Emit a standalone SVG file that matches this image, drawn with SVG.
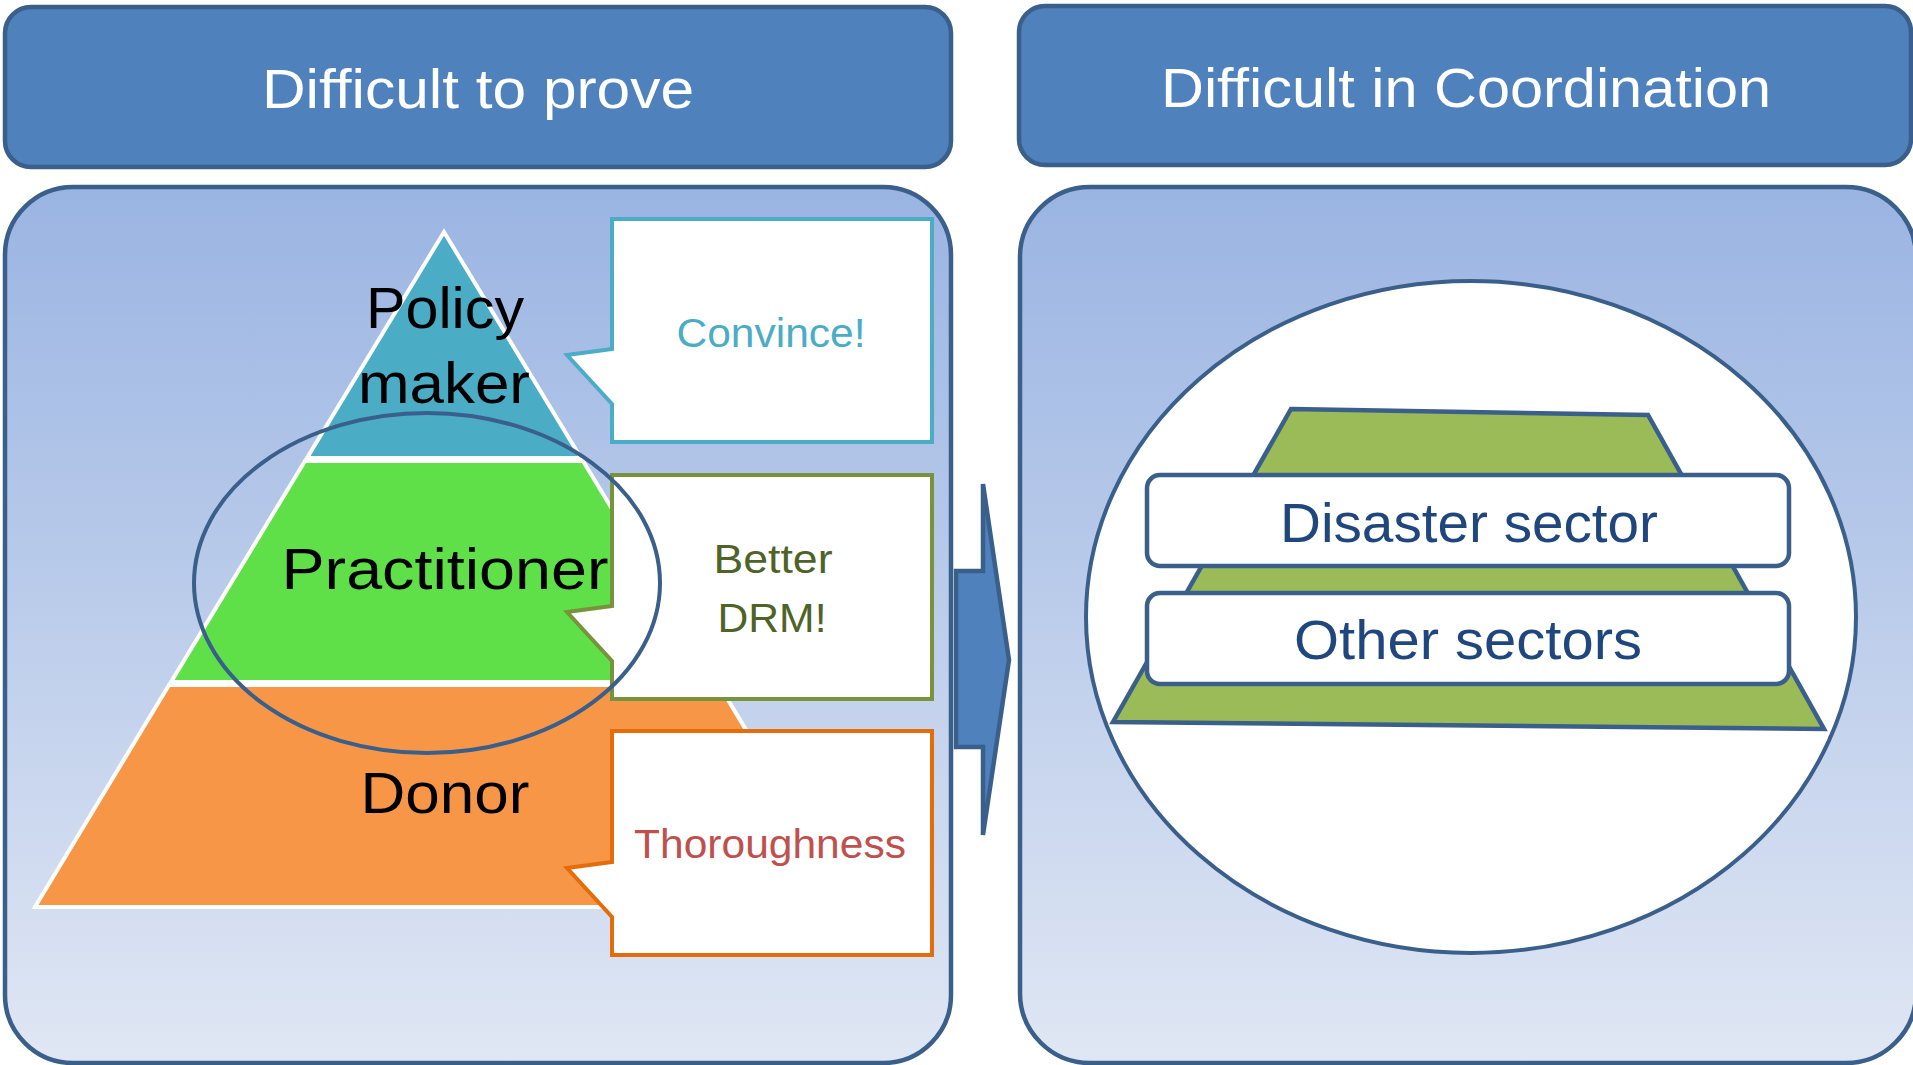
<svg xmlns="http://www.w3.org/2000/svg" width="1913" height="1065" viewBox="0 0 1913 1065">
<defs>
<linearGradient id="panelGrad" x1="0" y1="0" x2="0" y2="1">
<stop offset="0" stop-color="#9AB4E2"/>
<stop offset="1" stop-color="#E0E7F4"/>
</linearGradient>
<style>
.t{font-family:"Liberation Sans Narrow","Liberation Sans",Arial,sans-serif;text-anchor:middle}
.hdr{fill:#4F81BD;stroke:#3A5F8B;stroke-width:4.5}
.hdrtxt{fill:#FFFFFF;font-size:56px}
.panel{fill:url(#panelGrad);stroke:#3A5F8B;stroke-width:4.5}
.layer{stroke:#FFFFFF;stroke-width:4;stroke-linejoin:miter}
.ptxt{fill:#000000;font-size:58px}
.callout{fill:#FFFFFF;stroke-width:4;stroke-linejoin:miter}
.ctxt{font-size:40px}
.ring{fill:none;stroke:#3A5F8B;stroke-width:4}
.sector{fill:#FFFFFF;stroke:#3A5F8B;stroke-width:4.5}
.stxt{fill:#1F477D;font-size:56px}
</style>
</defs>
<rect x="0" y="0" width="1913" height="1065" fill="#FFFFFF"/>

<g id="header-left">
<rect class="hdr" x="5" y="7" width="946" height="160" rx="26" ry="26"/>
<text class="t hdrtxt" x="478" y="108" textLength="432" lengthAdjust="spacingAndGlyphs">Difficult to prove</text>
</g>
<g id="header-right">
<rect class="hdr" x="1019" y="6" width="892" height="159" rx="26" ry="26"/>
<text class="t hdrtxt" x="1466" y="107" textLength="610" lengthAdjust="spacingAndGlyphs">Difficult in Coordination</text>
</g>

<g id="panel-left">
<rect class="panel" x="5" y="187" width="946" height="876" rx="68" ry="68"/>
</g>
<g id="panel-right">
<rect class="panel" x="1020" y="187" width="896" height="876" rx="70" ry="70"/>
</g>

<g id="pyramid">
<g id="layer-policy">
<polygon class="layer" fill="#4BACC6" points="444,232 581,458 307,458"/>
<text class="t ptxt" x="445" y="328" textLength="158" lengthAdjust="spacingAndGlyphs">Policy</text>
<text class="t ptxt" x="444" y="403" textLength="172" lengthAdjust="spacingAndGlyphs">maker</text>
</g>
<g id="layer-practitioner">
<polygon class="layer" fill="#60E048" points="305,461 583,461 717,682 171,682"/>
</g>
<g id="layer-donor">
<polygon class="layer" fill="#F79646" points="169,685 719,685 853,907 35,907"/>
<text class="t ptxt" x="445" y="813" textLength="169" lengthAdjust="spacingAndGlyphs">Donor</text>
</g>
</g>

<g id="callout-convince">
<path class="callout" stroke="#4BACC6" d="M612,219 H932 V442 H612 V404 L567,355 L612,349 Z"/>
<text class="t ctxt" fill="#4BACC6" x="771" y="347" textLength="189" lengthAdjust="spacingAndGlyphs">Convince!</text>
</g>
<g id="callout-drm">
<path class="callout" stroke="#77933C" d="M612,475 H932 V699 H612 V661 L567,612 L612,606 Z"/>
<text class="t ctxt" fill="#4F6228" x="773" y="573" textLength="119" lengthAdjust="spacingAndGlyphs">Better</text>
<text class="t ctxt" fill="#4F6228" x="772" y="632" textLength="109" lengthAdjust="spacingAndGlyphs">DRM!</text>
</g>
<g id="callout-thoroughness">
<path class="callout" stroke="#E46C0A" d="M612,731 H932 V955 H612 V917 L567,868 L612,862 Z"/>
<text class="t ctxt" fill="#C0504D" x="770" y="858" textLength="272" lengthAdjust="spacingAndGlyphs">Thoroughness</text>
</g>

<g id="layer-practitioner-label">
<text class="t ptxt" x="445" y="589" textLength="327" lengthAdjust="spacingAndGlyphs">Practitioner</text>
</g>

<g id="focus-ellipse">
<ellipse class="ring" cx="427" cy="583" rx="233" ry="170"/>
</g>

<g id="coordination">
<ellipse class="ring" cx="1471" cy="617" rx="385" ry="336" style="fill:#FFFFFF"/>
<polygon fill="#9BBB59" stroke="#3A5F8B" stroke-width="4.5" stroke-linejoin="miter" points="1291,409 1648,415 1824,729 1113,722"/>
<g id="sector-disaster">
<rect class="sector" x="1147" y="475" width="642" height="91" rx="13" ry="13"/>
<text class="t stxt" x="1469" y="542" textLength="378" lengthAdjust="spacingAndGlyphs">Disaster sector</text>
</g>
<g id="sector-other">
<rect class="sector" x="1147" y="593" width="642" height="91" rx="13" ry="13"/>
<text class="t stxt" x="1468" y="659" textLength="348" lengthAdjust="spacingAndGlyphs">Other sectors</text>
</g>
</g>

<g id="connectors">
<polygon fill="#4F81BD" stroke="#3A5F8B" stroke-width="4.5" stroke-linejoin="miter" points="956,571 983,571 983,484 1009,660 983,835 983,747 956,747"/>
</g>
</svg>
